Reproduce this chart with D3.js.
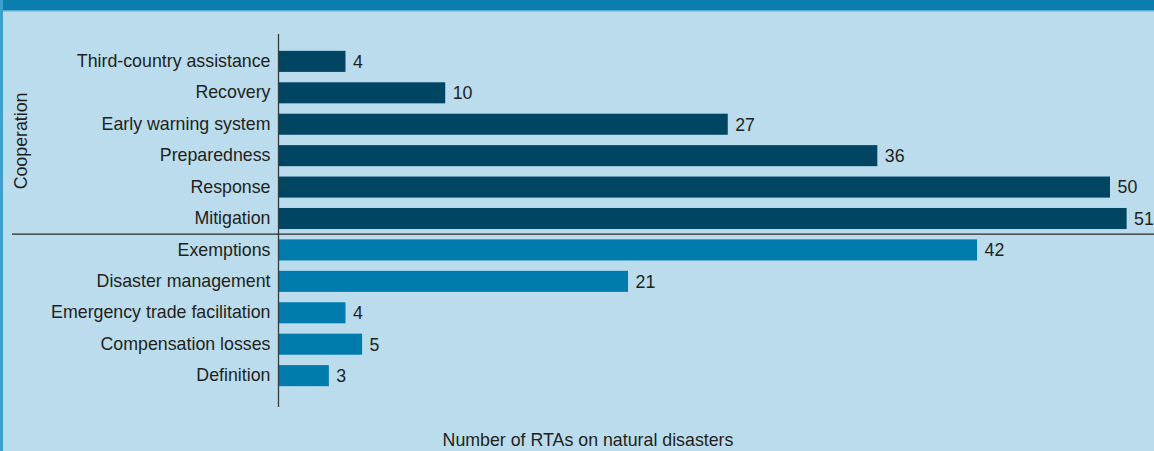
<!DOCTYPE html>
<html>
<head>
<meta charset="utf-8">
<script src="https://cdn.jsdelivr.net/npm/d3@7"></script>
<style>
  html, body { margin: 0; padding: 0; background: #badcec; }
  svg { display: block; }
  text { font-family: "Liberation Sans", Arial, sans-serif; fill: #231f20; }
</style>
</head>
<body>
<svg id="chart" width="1154" height="451"></svg>
<script>
// Provisions found in RTAs dealing with natural disasters
const cooperationCategories = ["Third-country assistance", "Recovery", "Early warning system", "Preparedness", "Response", "Mitigation"];
const cooperationValues = [4, 10, 27, 36, 50, 51];
const otherCategories = ["Exemptions", "Disaster management", "Emergency trade facilitation", "Compensation losses", "Definition"];
const otherValues = [42, 21, 4, 5, 3];
const groupLabel = "Cooperation";
const axisTitle = "Number of RTAs on natural disasters";

const rows = [
  ...cooperationCategories.map((c, i) => ({ cat: c, value: cooperationValues[i], group: "coop" })),
  ...otherCategories.map((c, i) => ({ cat: c, value: otherValues[i], group: "other" }))
];

const W = 1154, H = 451;
const FS = 17.8;
const svg = d3.select("#chart");

// frame
svg.append("rect").attr("x", 0).attr("y", 0).attr("width", W).attr("height", H).attr("fill", "#badcec");
svg.append("rect").attr("x", 0).attr("y", 0).attr("width", W).attr("height", 10).attr("fill", "#0a7faf");
svg.append("rect").attr("x", 0).attr("y", 10).attr("width", W).attr("height", 1.5).attr("fill", "#5aaed4");
svg.append("rect").attr("x", 0).attr("y", 0).attr("width", 3).attr("height", H).attr("fill", "#3d9fcc");

const x0 = 279;
const x = d3.scaleLinear().domain([0, 51]).range([x0, x0 + 51 * 16.62]);
const y = d3.scaleBand()
  .domain(rows.map(d => d.cat))
  .range([45.5, 391.5])
  .paddingInner(0.33)
  .paddingOuter(0.17);

const colors = { coop: "#004663", other: "#007bad" };

// bars
svg.append("g").selectAll("rect").data(rows).join("rect")
  .attr("x", x(0))
  .attr("y", d => y(d.cat))
  .attr("width", d => x(d.value) - x(0))
  .attr("height", y.bandwidth())
  .attr("fill", d => colors[d.group]);

// value labels
svg.append("g").selectAll("text").data(rows).join("text")
  .attr("x", d => x(d.value) + 7.5)
  .attr("y", d => y(d.cat) + y.bandwidth() / 2)
  .attr("dy", "0.36em")
  .attr("font-size", FS)
  .text(d => d.value);

// category axis
const axis = d3.axisLeft(y).tickSize(0).tickPadding(8);
const gAxis = svg.append("g").attr("transform", `translate(${x0 - 0.5},0)`).call(axis);
gAxis.select(".domain").remove();
gAxis.selectAll("text")
  .attr("font-size", FS)
  .attr("fill", "#231f20")
  .style("font-family", "'Liberation Sans', Arial, sans-serif");

svg.append("line")
  .attr("x1", x0 - 0.5).attr("x2", x0 - 0.5)
  .attr("y1", 34).attr("y2", 407)
  .attr("stroke", "#3a3a3a").attr("stroke-width", 1.3);

// group separator
const sepY = (y(cooperationCategories[cooperationCategories.length - 1]) + y.bandwidth() + y(otherCategories[0])) / 2;
svg.append("line")
  .attr("x1", 12).attr("x2", W)
  .attr("y1", sepY).attr("y2", sepY)
  .attr("stroke", "#2a2a2a").attr("stroke-width", 1.3);

// group label
const coopMid = (y(cooperationCategories[0]) + y(cooperationCategories[cooperationCategories.length - 1]) + y.bandwidth()) / 2;
svg.append("text")
  .attr("transform", `translate(26.5,${coopMid + 1}) rotate(-90)`)
  .attr("text-anchor", "middle")
  .attr("font-size", FS)
  .text(groupLabel);

// axis title
svg.append("text")
  .attr("x", 588)
  .attr("y", 446)
  .attr("text-anchor", "middle")
  .attr("font-size", FS)
  .text(axisTitle);
</script>
</body>
</html>
